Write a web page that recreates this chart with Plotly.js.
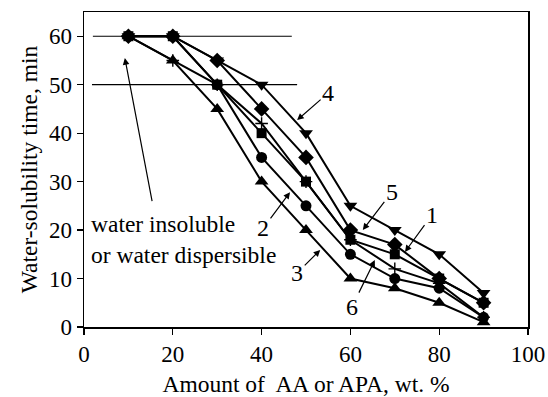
<!DOCTYPE html>
<html>
<head>
<meta charset="utf-8">
<script src="https://cdn.plot.ly/plotly-3.0.1.min.js"></script>
<style>html,body{margin:0;padding:0;background:#fff;}#chart{width:548px;height:397px;}</style>
</head>
<body>
<div id="chart"></div>
<script>
// Data
const amount = [10, 20, 30, 40, 50, 60, 70, 80, 90];
const series4 = [60, 60, 55, 50, 40, 25, 20, 15, 7];   // triangle-down
const series5 = [60, 60, 55, 45, 35, 20, 17, 10, 5];   // diamond
const series1 = [60, 60, 50, 40, 30, 18, 15, 10, 5];   // square
const series6 = [60, 55, 50, 42, 30, 18, 12, 9, 2];    // plus
const series2 = [60, 60, 50, 35, 25, 15, 10, 8, 2];    // circle
const series3 = [60, 55, 45, 30, 20, 10, 8, 5, 1];     // triangle-up
const refLineX60 = [2, 46.8];
const refLineY60 = [60, 60];
const refLineX50 = [1.8, 48];
const refLineY50 = [50, 50];
const xTicks = [0, 20, 40, 60, 80, 100];
const yTicks = [0, 10, 20, 30, 40, 50, 60];

const FONT = "'Liberation Serif', 'DejaVu Serif', 'Times New Roman', serif";
const black = "#000";

function line(y, sym, size, extra) {
  return Object.assign({
    x: amount, y: y, type: "scatter", mode: "lines+markers",
    line: {color: black, width: 2},
    marker: {symbol: sym, size: size, color: black, line: {color: black, width: 0}},
    cliponaxis: false, hoverinfo: "skip", showlegend: false
  }, extra || {});
}

const traces = [
  {x: refLineX60, y: refLineY60, type: "scatter", mode: "lines", line: {color: black, width: 1.2}, showlegend: false, hoverinfo: "skip"},
  {x: refLineX50, y: refLineY50, type: "scatter", mode: "lines", line: {color: black, width: 1.2}, showlegend: false, hoverinfo: "skip"},
  line(series6, "cross-thin", 9, {marker: {symbol: "cross-thin", size: 9, color: black, line: {color: black, width: 1.4}}}),
  line(series3, "triangle-up", 12),
  line(series2, "circle", 11),
  line(series1, "square", 10),
  line(series5, "diamond", 12),
  line(series4, "triangle-down", 12)
];

function lab(text, x, y, ax, ay) {
  return {x: x, y: y, xref: "x", yref: "y", text: text, showarrow: true,
    ax: ax, ay: ay, arrowhead: 2, arrowsize: 1.1, arrowwidth: 1.2, arrowcolor: black,
    standoff: 0, startstandoff: 0,
    font: {family: FONT, size: 24, color: black}};
}

const annotations = [
  lab("4", 48.0, 42.7, 31, -27),
  lab("5", 62.8, 20.0, 29, -38),
  lab("1", 72.3, 15.5, 27, -37),
  lab("2", 46.4, 27.8, -27, 36),
  lab("3", 53.2, 15.9, -23, 23),
  lab("6", 65.5, 13.8, -23, 47),
  {x: 9.2, y: 55.5, xref: "x", yref: "y", text: " ", showarrow: true,
   ax: 28, ay: 147, arrowhead: 2, arrowsize: 1.1, arrowwidth: 1.2, arrowcolor: black,
   font: {family: FONT, size: 4, color: black}},
  {x: 1.1, y: 18.0, xref: "x", yref: "y", text: "water insoluble<br>or water dispersible",
   showarrow: false, xanchor: "left", yanchor: "middle", align: "left",
   font: {family: FONT, size: 23.5, color: black}}
];

const layout = {
  width: 548, height: 397,
  margin: {l: 84, r: 20, t: 12, b: 70},
  paper_bgcolor: "#fff", plot_bgcolor: "#fff",
  font: {family: FONT, size: 23, color: black},
  showlegend: false,
  xaxis: {
    range: [0, 100], tickvals: xTicks, ticktext: xTicks.map(String),
    ticks: "outside", ticklen: 6, tickwidth: 1.2, tickcolor: black,
    showline: true, linecolor: black, linewidth: 1.5, mirror: true,
    showgrid: false, zeroline: false,
    tickfont: {family: FONT, size: 23, color: black},
    title: {text: "Amount of  AA or APA, wt. %", font: {family: FONT, size: 23.5, color: black}, standoff: 10}
  },
  yaxis: {
    range: [0, 65], tickvals: yTicks, ticktext: yTicks.map(String),
    ticks: "outside", ticklen: 6, tickwidth: 1.2, tickcolor: black,
    showline: true, linecolor: black, linewidth: 1.5, mirror: true,
    showgrid: false, zeroline: false,
    tickfont: {family: FONT, size: 23, color: black},
    title: {text: "Water-solubility time, min", font: {family: FONT, size: 23.5, color: black}, standoff: 4}
  },
  annotations: annotations
};

Plotly.newPlot("chart", traces, layout, {staticPlot: true, displayModeBar: false});
</script>
</body>
</html>
